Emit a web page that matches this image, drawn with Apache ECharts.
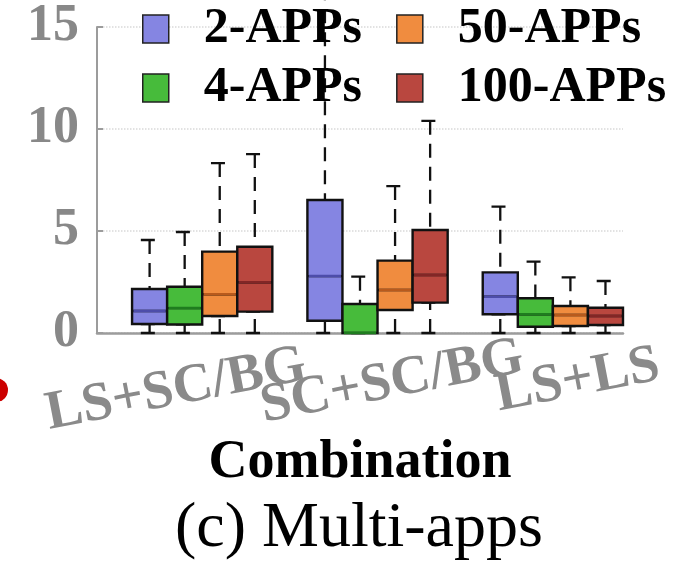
<!DOCTYPE html>
<html>
<head>
<meta charset="utf-8">
<script src="https://cdn.jsdelivr.net/npm/echarts@6/dist/echarts.min.js"></script>
<style>
  html, body { margin: 0; padding: 0; background: #fff; }
  #chart { width: 680px; height: 566px; }
</style>
</head>
<body>
<div id="chart"></div>
<script>
// data, [min, Q1, median, Q3, max] per combination
const categories = ['LS+SC/BG', 'SC+SC/BG', 'LS+LS'];
const seriesNames = ['2-APPs', '4-APPs', '50-APPs', '100-APPs'];
const apps2 = [[0, 0.44, 1.08, 2.16, 4.56], [0, 0.6, 2.79, 6.52, 17], [0, 0.92, 1.78, 2.97, 6.19]];
const apps4 = [[0, 0.42, 1.22, 2.27, 4.95], [0, 0, 0, 1.42, 2.76], [0, 0.31, 0.92, 1.7, 3.5]];
const apps50 = [[0, 0.83, 1.9, 3.99, 8.33], [0, 1.13, 2.11, 3.55, 7.2], [0, 0.34, 0.88, 1.32, 2.73]];
const apps100 = [[0, 1.05, 2.49, 4.23, 8.77], [0, 1.49, 2.84, 5.05, 10.4], [0, 0.39, 0.83, 1.24, 2.55]];
const yTicks = [0, 5, 10, 15];

const allData = [apps2, apps4, apps50, apps100];
const fills = ['#8585e2', '#47bb3b', '#f08c3f', '#b9473f'];
const medianColors = ['#4d4daa', '#1f7d1f', '#b85a1c', '#822626'];
// tick labels sit off-centre in the figure; nudged along their baseline
const labelPad = [[0, 41, 16, 0], [0, 0, 0, 0], [0, 42, 16, 0]];
const serif = 'Liberation Serif';

// one empty slot in front of each group of four boxes
const slots = [];
categories.forEach(function () {
    slots.push('');
    seriesNames.forEach(function () { slots.push(''); });
});
function slotOf(g, s) { return g * (seriesNames.length + 1) + 1 + s; }
function emptySlots() { return slots.map(function () { return '-'; }); }

const whiskerData = emptySlots();
const medianData = emptySlots();
const boxData = seriesNames.map(function () { return emptySlots(); });
allData.forEach(function (rows, s) {
    rows.forEach(function (r, g) {
        const i = slotOf(g, s);
        whiskerData[i] = [r[0], r[1], r[1], r[1], r[4]];
        boxData[s][i] = [r[1], r[1], r[2], r[3], r[3]];
        medianData[i] = {value: [r[2], r[2], r[2], r[2], r[2]], itemStyle: {borderColor: medianColors[s]}};
    });
});

function slotAxis(show) {
    return {
        type: 'category', data: slots, position: 'bottom', show: show, gridIndex: 0,
        axisLine: {show: true, lineStyle: {color: '#9c9c9c', width: 2.5}},
        axisTick: {show: false}, axisLabel: {show: false}, splitLine: {show: false}
    };
}

const xAxes = [];
for (let k = 0; k < seriesNames.length + 2; k++) xAxes.push(slotAxis(k === 0));
Object.assign(xAxes[0], {
    name: 'Combination', nameLocation: 'middle', nameGap: 130, nameMoveOverlap: false,
    nameTextStyle: {fontSize: 54, fontWeight: 'bold', fontFamily: serif, color: '#000', verticalAlign: 'middle'}
});
// label-only axis on its own (wider) grid
xAxes.push({
    type: 'category', position: 'bottom', gridIndex: 1,
    data: categories.map(function (c, i) { return {value: c, textStyle: {padding: labelPad[i]}}; }),
    axisLine: {show: false}, axisTick: {show: false}, splitLine: {show: false},
    axisLabel: {
        interval: 0, rotate: 11, verticalAlign: 'middle', margin: 24,
        fontSize: 55, fontWeight: 'bold', fontFamily: serif, color: '#8a8a8a'
    }
});

const series = [{
    name: 'whisker', type: 'boxplot', xAxisIndex: seriesNames.length, data: whiskerData,
    boxWidth: ['50%', '50%'],
    itemStyle: {color: 'transparent', borderColor: '#111', borderWidth: 2.3, borderType: [14, 9]}
}];
seriesNames.forEach(function (name, s) {
    series.push({
        name: name, type: 'boxplot', xAxisIndex: s, data: boxData[s],
        boxWidth: ['100%', '100%'],
        itemStyle: {color: fills[s], borderColor: '#111', borderWidth: 2.4}
    });
});
series.push({
    name: 'median', type: 'boxplot', xAxisIndex: seriesNames.length + 1, data: medianData,
    boxWidth: ['92%', '92%'],
    itemStyle: {color: 'transparent', borderWidth: 2.5}
});
series.forEach(function (s) { s.emphasis = {disabled: true}; s.silent = true; });

function legendItem(name) {
    const i = seriesNames.indexOf(name);
    return {name: name, icon: 'rect', itemStyle: {color: fills[i], borderColor: '#222', borderWidth: 1.5}};
}
const legendBase = {
    left: 142, padding: 0, itemWidth: 26, itemHeight: 28, itemGap: 34, selectedMode: false,
    textStyle: {fontSize: 50, lineHeight: 50, fontWeight: 'bold', fontFamily: serif, color: '#000', padding: [0, 0, 0, 30]}
};

const option = {
    animation: false,
    backgroundColor: '#fff',
    grid: [
        {left: 97, right: 57, top: 27, bottom: 233, outerBoundsMode: 'none', containLabel: false},
        {left: 257, right: -109, top: 27, bottom: 233, outerBoundsMode: 'none', containLabel: false}
    ],
    title: {
        text: '(c) Multi-apps', left: 170, top: 492,
        textStyle: {fontSize: 64, fontWeight: 'normal', fontFamily: serif, color: '#000'}
    },
    legend: [
        Object.assign({}, legendBase, {top: 4, data: [legendItem('2-APPs'), legendItem('50-APPs')]}),
        Object.assign({}, legendBase, {top: 63, data: [legendItem('4-APPs'), legendItem('100-APPs')]})
    ],
    xAxis: xAxes,
    yAxis: [{
        type: 'value', gridIndex: 0, min: yTicks[0], max: yTicks[yTicks.length - 1], interval: yTicks[1] - yTicks[0],
        axisLine: {show: true, lineStyle: {color: '#9c9c9c', width: 2}},
        axisTick: {show: true, inside: true, length: 6, lineStyle: {color: '#9c9c9c', width: 2}},
        axisLabel: {fontSize: 52, fontWeight: 'bold', fontFamily: serif, color: '#888', margin: 18, padding: [6, 0, 0, 0]},
        splitLine: {show: true, lineStyle: {color: '#d9d9d9', type: 'dotted', width: 1.5}}
    }, {
        type: 'value', gridIndex: 1, show: false, min: 0, max: 15
    }],
    graphic: [{type: 'circle', shape: {cx: -4, cy: 390, r: 12}, style: {fill: '#cc0000'}}],
    series: series
};

const chart = echarts.init(document.getElementById('chart'));
chart.setOption(option);
</script>
</body>
</html>
